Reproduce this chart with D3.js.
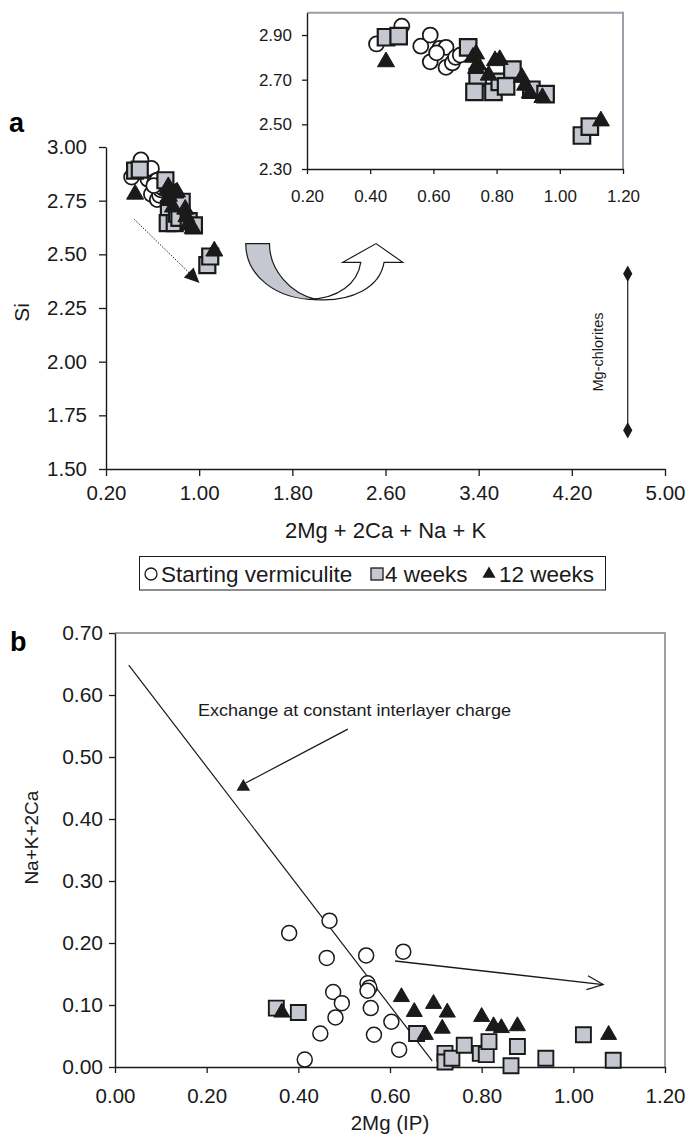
<!DOCTYPE html>
<html>
<head>
<meta charset="utf-8">
<script src="https://cdn.jsdelivr.net/npm/d3@7"></script>
<style>
  body { margin: 0; background: #fff; }
  svg { display: block; }
</style>
</head>
<body>
<script>
// panel a + inset : Si vs 2Mg + 2Ca + Na + K
const startX  = [0.42, 0.50, 0.56, 0.59, 0.62, 0.64, 0.59, 0.64, 0.66, 0.67, 0.685, 0.61];
const startSi = [2.86, 2.94, 2.85, 2.90, 2.84, 2.845, 2.78, 2.755, 2.775, 2.80, 2.81, 2.82];
const wk4X  = [0.45, 0.49, 0.71, 0.74, 0.73, 0.79, 0.81, 0.83, 0.85, 0.91, 0.955, 1.07, 1.095];
const wk4Si = [2.89, 2.895, 2.845, 2.71, 2.645, 2.645, 2.69, 2.67, 2.745, 2.655, 2.635, 2.45, 2.49];
const wk12X  = [0.45, 0.725, 0.735, 0.74, 0.735, 0.775, 0.795, 0.81, 0.88, 0.89, 0.905, 0.945, 1.13];
const wk12Si = [2.78, 2.80, 2.815, 2.77, 2.75, 2.72, 2.785, 2.79, 2.71, 2.675, 2.64, 2.62, 2.515];

const chloriteX = 4.68;
const chloriteSi = [1.68, 2.41];

// panel b : Na+K+2Ca vs 2Mg (IP)
const startMg  = [0.38, 0.468, 0.462, 0.548, 0.629, 0.551, 0.555, 0.551, 0.476, 0.495, 0.558, 0.481, 0.603, 0.448, 0.565, 0.62, 0.414];
const startNa  = [0.216, 0.236, 0.176, 0.180, 0.186, 0.135, 0.128, 0.123, 0.121, 0.103, 0.095, 0.080, 0.073, 0.054, 0.052, 0.028, 0.012];
const wk4Mg = [0.352, 0.40, 0.658, 0.72, 0.72, 0.735, 0.762, 0.797, 0.81, 0.816, 0.864, 0.878, 0.94, 1.022, 1.087];
const wk4Na = [0.095, 0.088, 0.054, 0.022, 0.008, 0.014, 0.035, 0.022, 0.020, 0.041, 0.002, 0.033, 0.014, 0.052, 0.011];
const wk12Mg = [0.364, 0.625, 0.653, 0.677, 0.695, 0.725, 0.714, 0.80, 0.826, 0.843, 0.878, 1.077];
const wk12Na = [0.088, 0.113, 0.089, 0.052, 0.102, 0.088, 0.062, 0.081, 0.066, 0.063, 0.066, 0.052];

const exchangeLine = [[0.03, 0.648], [0.692, 0.01]];

// ticks
const xTicksA = [0.2, 1.0, 1.8, 2.6, 3.4, 4.2, 5.0];
const yTicksA = [1.5, 1.75, 2.0, 2.25, 2.5, 2.75, 3.0];
const xTicksI = [0.2, 0.4, 0.6, 0.8, 1.0, 1.2];
const yTicksI = [2.3, 2.5, 2.7, 2.9];
const xTicksB = [0, 0.2, 0.4, 0.6, 0.8, 1.0, 1.2];
const yTicksB = [0, 0.1, 0.2, 0.3, 0.4, 0.5, 0.6, 0.7];

const FONT = '"Liberation Sans", Arial, sans-serif';
const INK = '#1a1a1a';
const SQ_FILL = '#c5c8d0';
const FRAME = '#9ba0a8';

const W = 688, H = 1136;
const svg = d3.select('body').append('svg')
  .attr('width', W).attr('height', H)
  .attr('font-family', FONT);

const fmt = d3.format('.2f');

const xA = d3.scaleLinear().domain([0.2, 5.0]).range([106, 665]);
const yA = d3.scaleLinear().domain([1.5, 3.0]).range([469, 147]);
const xI = d3.scaleLinear().domain([0.2, 1.2]).range([307, 623]);
const yI = d3.scaleLinear().domain([2.3, 3.0]).range([169, 12.7]);
const xB = d3.scaleLinear().domain([0, 1.2]).range([115, 665]);
const yB = d3.scaleLinear().domain([0, 0.7]).range([1067, 633]);

function styleAxis(g, fs) {
  g.attr('font-family', FONT).attr('font-size', fs);
  g.select('.domain').attr('stroke', INK).attr('stroke-width', 1.4);
  g.selectAll('.tick line').attr('stroke', INK).attr('stroke-width', 1.3);
  g.selectAll('.tick text').attr('fill', INK);
}

const zip = (a, b) => a.map((v, i) => [v, b[i]]);

function markers(g, pts, x, y, kind, s) {
  let sym, fill, stroke, sw;
  if (kind === 'circle') { sym = d3.symbol(d3.symbolCircle, Math.PI * s.r * s.r); fill = '#fff'; stroke = INK; sw = s.sw; }
  if (kind === 'square') { sym = d3.symbol(d3.symbolSquare, s.sq * s.sq); fill = SQ_FILL; stroke = INK; sw = s.sw + 0.4; }
  if (kind === 'tri') { sym = d3.symbol(d3.symbolTriangle, Math.sqrt(3) / 4 * s.tw * s.tw); fill = INK; stroke = INK; sw = 1; }
  g.selectAll(null).data(pts).enter().append('path')
    .attr('d', sym)
    .attr('transform', d => `translate(${x(d[0])},${y(d[1])})`)
    .attr('fill', fill).attr('stroke', stroke).attr('stroke-width', sw);
}

// ---------- panel a ----------
const gA = svg.append('g');
gA.append('text').attr('x', 9).attr('y', 132).attr('font-size', 27).attr('font-weight', 'bold').text('a');

gA.append('g').attr('transform', `translate(0,${yA(1.5)})`)
  .call(d3.axisBottom(xA).tickValues(xTicksA).tickFormat(fmt).tickSize(7).tickSizeOuter(0).tickPadding(9))
  .call(g => styleAxis(g, 20.5));
gA.append('g').attr('transform', `translate(${xA(0.2)},0)`)
  .call(d3.axisLeft(yA).tickValues(yTicksA).tickFormat(fmt).tickSize(7).tickSizeOuter(0).tickPadding(12))
  .call(g => styleAxis(g, 20.5));

gA.append('text').attr('x', (xA(0.2) + xA(5.0)) / 2).attr('y', 538)
  .attr('text-anchor', 'middle').attr('font-size', 22).attr('fill', INK).text('2Mg + 2Ca + Na + K');
gA.append('text').attr('transform', `translate(29,${yA(2.23)}) rotate(-90)`)
  .attr('text-anchor', 'middle').attr('font-size', 21).attr('fill', INK).text('Si');

// dotted trend arrow
{
  const p0 = [xA(0.443), yA(2.663)], p1 = [xA(0.978), yA(2.38)];
  gA.append('line').attr('x1', p0[0]).attr('y1', p0[1]).attr('x2', p1[0]).attr('y2', p1[1])
    .attr('stroke', INK).attr('stroke-width', 1).attr('stroke-dasharray', '1.5,1.5');
  const ang = Math.atan2(p1[1] - p0[1], p1[0] - p0[0]) * 180 / Math.PI;
  gA.append('path').attr('d', 'M4,0 L-11,-7 L-11,7 Z')
    .attr('transform', `translate(${p1[0]},${p1[1]}) rotate(${ang})`).attr('fill', INK);
}

const sA = { r: 7.5, sq: 16, tw: 17, sw: 1.8 };
markers(gA, zip(startX, startSi), xA, yA, 'circle', sA);
markers(gA, zip(wk4X, wk4Si), xA, yA, 'square', sA);
markers(gA, zip(wk12X, wk12Si), xA, yA, 'tri', sA);

// curved arrow towards inset
{
  const g = gA.append('g').attr('transform', `translate(${xA(1.40)},${yA(2.55)})`);
  g.append('path')
    .attr('d', 'M0,0 L23.7,0 C23.7,26 44,50 71,56 C30,56 0,32 0,0 Z')
    .attr('fill', SQ_FILL).attr('stroke', INK).attr('stroke-width', 1.2);
  g.append('path')
    .attr('d', 'M64,55.5 C92,55 112,40 115,18.7 L97,18.7 L130.3,0 L157,18.7 L138.3,18.7 C134,44 106,58 71,56 Z')
    .attr('fill', '#fff').attr('stroke', INK).attr('stroke-width', 1.2);
}

// Mg-chlorites range
{
  const cx = xA(chloriteX);
  gA.append('line').attr('x1', cx).attr('x2', cx).attr('y1', yA(chloriteSi[0])).attr('y2', yA(chloriteSi[1]))
    .attr('stroke', INK).attr('stroke-width', 1.2);
  gA.selectAll(null).data(chloriteSi).enter().append('path')
    .attr('d', d3.symbol(d3.symbolDiamond, 75))
    .attr('transform', d => `translate(${cx},${yA(d)})`).attr('fill', INK);
  gA.append('text').attr('transform', `translate(${cx - 25},${yA(d3.mean(chloriteSi))}) rotate(-90)`)
    .attr('text-anchor', 'middle').attr('font-size', 14.5).attr('fill', INK).text('Mg-chlorites');
}

// ---------- inset ----------
const gI = svg.append('g');
gI.append('path')
  .attr('d', `M${xI(0.2)},${yI(3.0)} H${xI(1.2)} V${yI(2.3)}`)
  .attr('fill', 'none').attr('stroke', FRAME).attr('stroke-width', 2);
gI.append('g').attr('transform', `translate(0,${yI(2.3)})`)
  .call(d3.axisBottom(xI).tickValues(xTicksI).tickFormat(fmt).tickSize(5).tickSizeOuter(0).tickPadding(16))
  .call(g => styleAxis(g, 17));
gI.append('g').attr('transform', `translate(${xI(0.2)},0)`)
  .call(d3.axisLeft(yI).tickValues(yTicksI).tickFormat(fmt).tickSize(5).tickSizeOuter(0).tickPadding(10))
  .call(g => styleAxis(g, 17));
const sI = { r: 7.5, sq: 16.5, tw: 17, sw: 1.8 };
markers(gI, zip(startX, startSi), xI, yI, 'circle', sI);
markers(gI, zip(wk4X, wk4Si), xI, yI, 'square', sI);
markers(gI, zip(wk12X, wk12Si), xI, yI, 'tri', sI);

// ---------- legend ----------
{
  const g = svg.append('g');
  g.append('rect').attr('x', 139.5).attr('y', 556.5).attr('width', 466).attr('height', 33.5)
    .attr('fill', '#fff').attr('stroke', INK).attr('stroke-width', 1);
  const by = 582;
  g.append('circle').attr('cx', 151).attr('cy', by - 8).attr('r', 6).attr('fill', '#fff').attr('stroke', INK).attr('stroke-width', 1.3);
  g.append('text').attr('x', 161).attr('y', by).attr('font-size', 22.5).attr('fill', INK).text('Starting vermiculite');
  g.append('rect').attr('x', 371).attr('y', by - 14).attr('width', 12).attr('height', 12)
    .attr('fill', SQ_FILL).attr('stroke', INK).attr('stroke-width', 1.3);
  g.append('text').attr('x', 385).attr('y', by).attr('font-size', 22.5).attr('fill', INK).text('4 weeks');
  g.append('path').attr('d', d3.symbol(d3.symbolTriangle, 75)).attr('transform', `translate(489,${by - 8})`).attr('fill', INK);
  g.append('text').attr('x', 499).attr('y', by).attr('font-size', 22.5).attr('fill', INK).text('12 weeks');
}

// ---------- panel b ----------
const gB = svg.append('g');
gB.append('text').attr('x', 10).attr('y', 651).attr('font-size', 27).attr('font-weight', 'bold').text('b');
gB.append('path')
  .attr('d', `M${xB(0)},${yB(0.7)} H${xB(1.2)} V${yB(0)}`)
  .attr('fill', 'none').attr('stroke', FRAME).attr('stroke-width', 2);
gB.append('g').attr('transform', `translate(0,${yB(0)})`)
  .call(d3.axisBottom(xB).tickValues(xTicksB).tickFormat(fmt).tickSize(6).tickSizeOuter(0).tickPadding(15))
  .call(g => styleAxis(g, 20.5));
gB.append('g').attr('transform', `translate(${xB(0)},0)`)
  .call(d3.axisLeft(yB).tickValues(yTicksB).tickFormat(fmt).tickSize(6).tickSizeOuter(0).tickPadding(6))
  .call(g => styleAxis(g, 21));

gB.append('text').attr('x', (xB(0) + xB(1.2)) / 2).attr('y', 1130)
  .attr('text-anchor', 'middle').attr('font-size', 20.5).attr('fill', INK).text('2Mg (IP)');
gB.append('text').attr('transform', `translate(38,${yB(0.37)}) rotate(-90)`)
  .attr('text-anchor', 'middle').attr('font-size', 19).attr('fill', INK).text('Na+K+2Ca');

// constant-charge exchange line
gB.append('line')
  .attr('x1', xB(exchangeLine[0][0])).attr('y1', yB(exchangeLine[0][1]))
  .attr('x2', xB(exchangeLine[1][0])).attr('y2', yB(exchangeLine[1][1]))
  .attr('stroke', INK).attr('stroke-width', 1.2);

// annotation
gB.append('text').attr('x', xB(0.181)).attr('y', yB(0.566))
  .attr('font-size', 17).attr('fill', INK)
  .attr('textLength', 313).attr('lengthAdjust', 'spacingAndGlyphs')
  .text('Exchange at constant interlayer charge');
gB.append('line')
  .attr('x1', xB(0.508)).attr('y1', yB(0.545)).attr('x2', xB(0.285)).attr('y2', yB(0.458))
  .attr('stroke', INK).attr('stroke-width', 1.3);
gB.append('path').attr('d', d3.symbol(d3.symbolTriangle, 80))
  .attr('transform', `translate(${xB(0.28)},${yB(0.452)})`).attr('fill', INK);

// trend arrow
{
  const p0 = [xB(0.611), yB(0.171)], p1 = [xB(1.065), yB(0.133)];
  gB.append('line').attr('x1', p0[0]).attr('y1', p0[1]).attr('x2', p1[0]).attr('y2', p1[1])
    .attr('stroke', INK).attr('stroke-width', 1.3);
  const ang = Math.atan2(p1[1] - p0[1], p1[0] - p0[0]) * 180 / Math.PI;
  gB.append('path').attr('d', 'M-16,-7 L0,0 L-16,7')
    .attr('transform', `translate(${p1[0]},${p1[1]}) rotate(${ang})`)
    .attr('fill', 'none').attr('stroke', INK).attr('stroke-width', 1.3);
}

const sB = { r: 7.5, sq: 15, tw: 16, sw: 1.5 };
markers(gB, zip(startMg, startNa), xB, yB, 'circle', sB);
markers(gB, zip(wk4Mg, wk4Na), xB, yB, 'square', sB);
markers(gB, zip(wk12Mg, wk12Na), xB, yB, 'tri', sB);
</script>
</body>
</html>
